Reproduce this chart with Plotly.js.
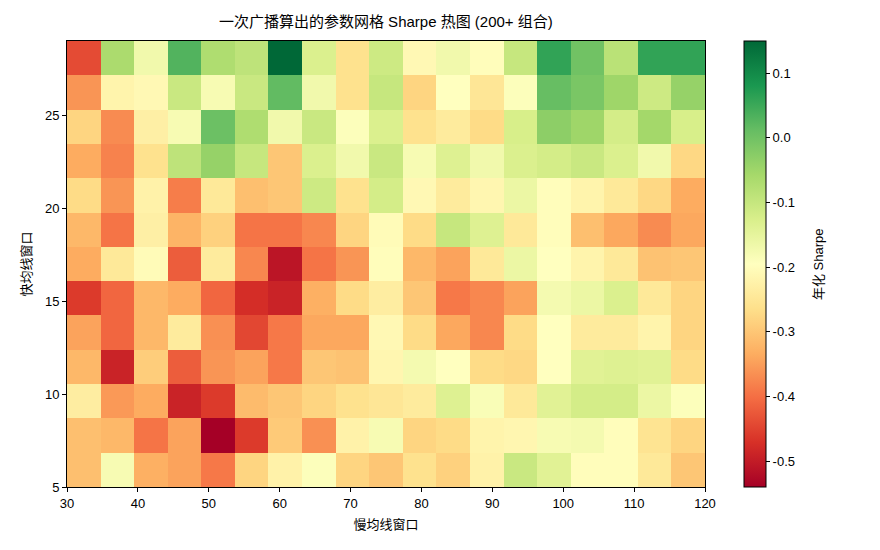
<!DOCTYPE html>
<html>
<head>
<meta charset="utf-8">
<script src="https://cdn.plot.ly/plotly-3.0.1.min.js"></script>
<style>html,body{margin:0;padding:0;background:#fff;}#chart{width:880px;height:550px;}</style>
</head>
<body>
<div id="chart"></div>
<script>
// Slow (x) and fast (y) moving-average windows
const slowWindows = [30,35,40,45,50,55,60,65,70,75,80,85,90,95,100,105,110,115,120];
const fastWindows = [5,7,9,11,13,15,17,19,21,23,25,27,29];
// image extent (matplotlib imshow style)
const slowExtent = [30,120];
const fastExtent = [5,29];

// Annualised Sharpe, one row per fast window (bottom row = fast 5)
const sharpe_f5  = [-0.31,-0.18,-0.33,-0.345,-0.39,-0.28,-0.225,-0.19,-0.28,-0.30,-0.26,-0.285,-0.225,-0.105,-0.14,-0.20,-0.20,-0.245,-0.30];
const sharpe_f7  = [-0.31,-0.32,-0.395,-0.345,-0.54,-0.46,-0.295,-0.365,-0.225,-0.18,-0.28,-0.27,-0.22,-0.215,-0.18,-0.175,-0.20,-0.255,-0.28];
const sharpe_f9  = [-0.235,-0.355,-0.335,-0.49,-0.46,-0.315,-0.30,-0.28,-0.26,-0.25,-0.24,-0.135,-0.185,-0.245,-0.14,-0.12,-0.12,-0.16,-0.19];
const sharpe_f11 = [-0.32,-0.49,-0.29,-0.42,-0.36,-0.345,-0.39,-0.30,-0.305,-0.215,-0.175,-0.195,-0.27,-0.275,-0.195,-0.14,-0.135,-0.14,-0.27];
const sharpe_f13 = [-0.345,-0.41,-0.32,-0.24,-0.365,-0.445,-0.39,-0.34,-0.34,-0.21,-0.27,-0.34,-0.375,-0.27,-0.195,-0.24,-0.24,-0.22,-0.28];
const sharpe_f15 = [-0.46,-0.41,-0.32,-0.335,-0.41,-0.475,-0.49,-0.33,-0.27,-0.235,-0.30,-0.39,-0.375,-0.345,-0.175,-0.16,-0.13,-0.245,-0.28];
const sharpe_f17 = [-0.335,-0.245,-0.205,-0.42,-0.24,-0.375,-0.51,-0.395,-0.36,-0.20,-0.32,-0.345,-0.245,-0.16,-0.195,-0.22,-0.245,-0.305,-0.30];
const sharpe_f19 = [-0.32,-0.395,-0.23,-0.325,-0.285,-0.395,-0.395,-0.375,-0.28,-0.205,-0.27,-0.10,-0.135,-0.245,-0.20,-0.31,-0.34,-0.37,-0.34];
const sharpe_f21 = [-0.27,-0.36,-0.225,-0.385,-0.245,-0.31,-0.30,-0.11,-0.26,-0.12,-0.21,-0.24,-0.215,-0.16,-0.20,-0.22,-0.245,-0.275,-0.335];
const sharpe_f23 = [-0.335,-0.38,-0.26,-0.09,-0.04,-0.10,-0.30,-0.13,-0.17,-0.105,-0.18,-0.135,-0.17,-0.13,-0.12,-0.105,-0.13,-0.17,-0.275];
const sharpe_f25 = [-0.28,-0.37,-0.23,-0.18,0.005,-0.07,-0.17,-0.105,-0.19,-0.13,-0.26,-0.24,-0.27,-0.125,-0.03,-0.05,-0.12,-0.055,-0.125];
const sharpe_f27 = [-0.36,-0.22,-0.21,-0.105,-0.18,-0.105,0.015,-0.17,-0.26,-0.10,-0.28,-0.195,-0.25,-0.19,0.01,-0.01,-0.05,-0.11,-0.04];
const sharpe_f29 = [-0.44,-0.065,-0.17,0.03,-0.07,-0.09,0.15,-0.13,-0.26,-0.11,-0.21,-0.17,-0.20,-0.10,0.06,0.0,-0.085,0.06,0.06];

const zRows = [sharpe_f5,sharpe_f7,sharpe_f9,sharpe_f11,sharpe_f13,sharpe_f15,sharpe_f17,sharpe_f19,sharpe_f21,sharpe_f23,sharpe_f25,sharpe_f27,sharpe_f29];

const xTicks = [30,40,50,60,70,80,90,100,110,120];
const yTicks = [5,10,15,20,25];
const cbTicks = [0.1,0.0,-0.1,-0.2,-0.3,-0.4,-0.5];

// RdYlGn colormap
const RdYlGn = [
  [0.0,'#a50026'],[0.1,'#d73027'],[0.2,'#f46d43'],[0.3,'#fdae61'],[0.4,'#fee08b'],
  [0.5,'#ffffbf'],[0.6,'#d9ef8b'],[0.7,'#a6d96a'],[0.8,'#66bd63'],[0.9,'#1a9850'],[1.0,'#006837']
];

const dx = (slowExtent[1]-slowExtent[0])/slowWindows.length;
const dy = (fastExtent[1]-fastExtent[0])/fastWindows.length;
const xCenters = slowWindows.map((_,i)=>slowExtent[0]+dx*(i+0.5));
const yCenters = fastWindows.map((_,j)=>fastExtent[0]+dy*(j+0.5));

const FONT = '"Liberation Sans", Arial, "Noto Sans CJK SC", sans-serif';

const trace = {
  type:'heatmap',
  x:xCenters, y:yCenters, z:zRows,
  colorscale:RdYlGn, zmin:-0.540, zmax:0.1495,
  xgap:0, ygap:0,
  colorbar:{
    x:1.061, xanchor:'left', xpad:0, ypad:0,
    y:0.5, yanchor:'middle', len:1, lenmode:'fraction',
    thickness:22, thicknessmode:'pixels',
    outlinewidth:1, outlinecolor:'#000',
    tickvals:cbTicks, ticktext:cbTicks.map(v=>v.toFixed(1)),
    ticks:'outside', ticklen:4, tickcolor:'#000',
    tickfont:{family:FONT,size:13,color:'#000'}
  },
  hovertemplate:'慢均线 %{x}<br>快均线 %{y}<br>Sharpe %{z:.3f}<extra></extra>'
};

const layout = {
  width:880, height:550,
  margin:{l:67,r:175,t:41,b:63},
  paper_bgcolor:'#fff', plot_bgcolor:'#fff',
  font:{family:FONT,size:13,color:'#000'},
  title:{text:'一次广播算出的参数网格 Sharpe 热图 (200+ 组合)', x:0.4385, xref:'container', xanchor:'center',
         y:1-22/550, yref:'container', yanchor:'middle', font:{family:FONT,size:15,color:'#000'}},
  xaxis:{range:slowExtent, tickvals:xTicks, ticks:'outside', ticklen:4, tickcolor:'#000',
         showline:true, mirror:true, linecolor:'#000', linewidth:1, showgrid:false, zeroline:false,
         tickfont:{family:FONT,size:13,color:'#000'},
         title:{text:'慢均线窗口', standoff:10, font:{family:FONT,size:13,color:'#000'}}},
  yaxis:{range:fastExtent, tickvals:yTicks, ticks:'outside', ticklen:4, tickcolor:'#000',
         showline:true, mirror:true, linecolor:'#000', linewidth:1, showgrid:false, zeroline:false,
         tickfont:{family:FONT,size:13,color:'#000'},
         title:{text:'快均线窗口', standoff:10, font:{family:FONT,size:13,color:'#000'}}},
  annotations:[{
    text:'年化 Sharpe', textangle:-90, showarrow:false,
    xref:'paper', yref:'paper', x:(818-67)/638, y:0.5, xanchor:'center', yanchor:'middle',
    font:{family:FONT,size:13,color:'#000'}
  }]
};

Plotly.newPlot('chart',[trace],layout,{displayModeBar:false,staticPlot:true});
</script>
</body>
</html>
